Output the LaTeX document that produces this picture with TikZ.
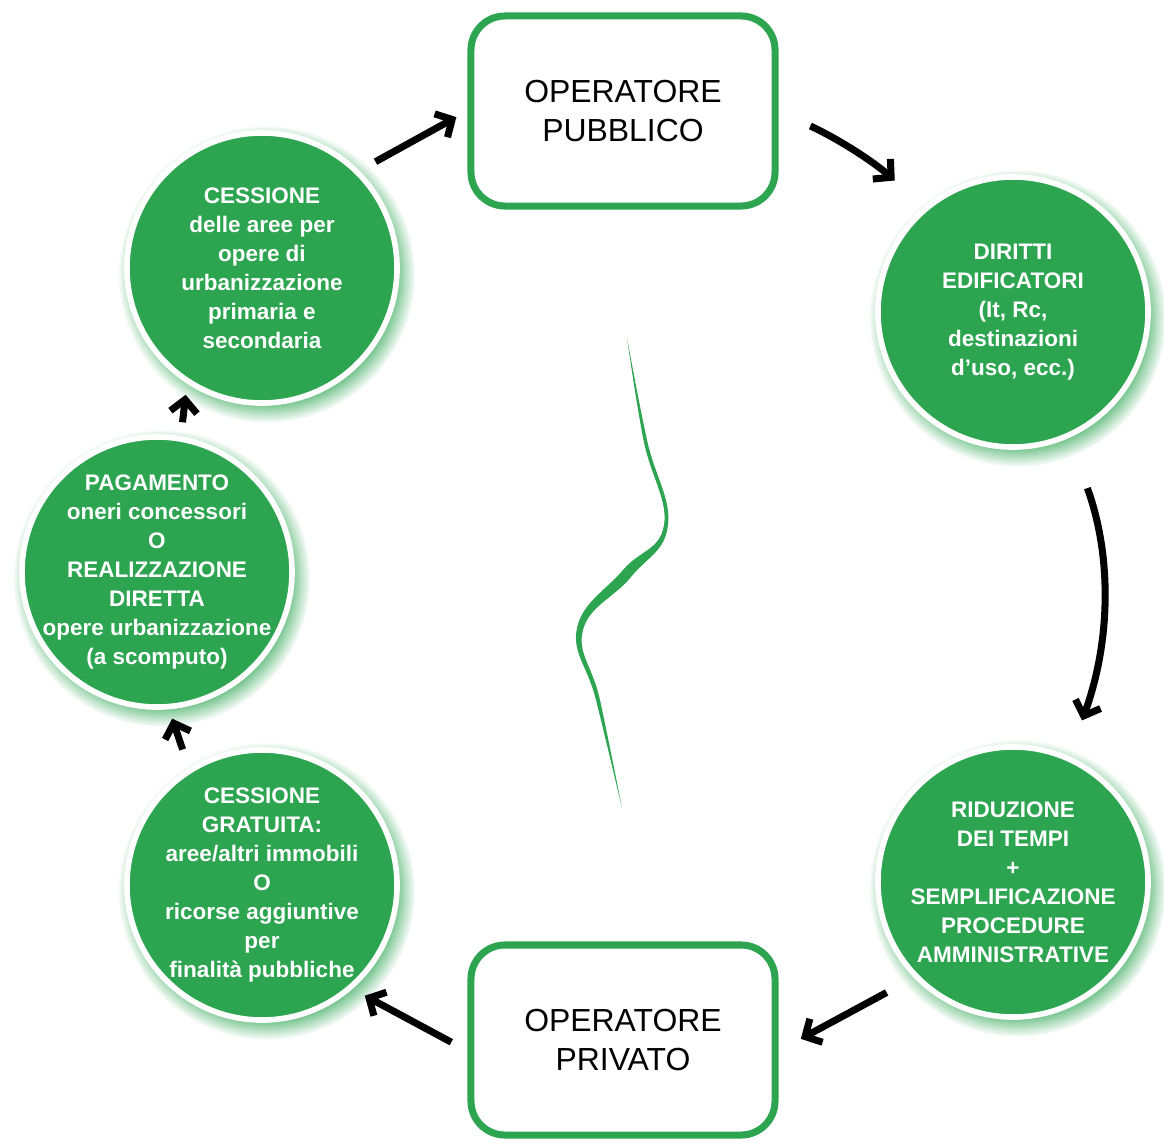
\documentclass[tikz,border=0pt]{standalone}
\usepackage{fontspec}
\setmainfont{Liberation Sans}
\usetikzlibrary{arrows.meta,shadows}
\definecolor{ringgreen}{RGB}{44,164,80}

\begin{document}
\begin{tikzpicture}[x=0.025cm,y=0.025cm,
  ->,>={Straight Barb[length=9pt,width=19pt]},
  flow/.style={line width=5pt},
  bubble/.style={circle,fill=ringgreen,draw=white,line width=4pt,
    minimum size=6.75cm,inner sep=0pt,
    circular drop shadow={fill=ringgreen,opacity=.75,shadow xshift=3pt,
      shadow yshift=-4pt,shadow scale=1.1}},
  bubbletext/.style={text=white,align=center,
    font=\bfseries\fontsize{16}{20.6}\selectfont},
  opbox/.style={rectangle,draw=ringgreen,line width=5pt,
    rounded corners=0.85cm,minimum width=7.6cm,minimum height=4.75cm,
    align=center,font=\fontsize{22.7}{28.4}\selectfont}]

\useasboundingbox (0,0) rectangle (1164,-1139);

\node[opbox] (op_pub) at (623,-111) {OPERATORE\\PUBBLICO};
\node[opbox] (op_priv) at (623,-1040) {OPERATORE\\PRIVATO};

\node[bubble,label={[bubbletext]center:{CESSIONE\\delle aree per\\opere di\\urbanizzazione\\primaria e\\secondaria}}]
  (c_cess) at (262,-268) {};
\node[bubble,label={[bubbletext]center:{DIRITTI\\EDIFICATORI\\(It, Rc,\\destinazioni\\d’uso, ecc.)}}]
  (c_dir) at (1013,-312) {};
\node[bubble,label={[bubbletext]center:{RIDUZIONE\\DEI TEMPI\\+\\SEMPLIFICAZIONE\\PROCEDURE\\AMMINISTRATIVE}}]
  (c_rid) at (1013,-882) {};
\node[bubble,label={[bubbletext]center:{CESSIONE\\GRATUITA:\\aree/altri immobili\\O\\ricorse aggiuntive\\per\\finalità pubbliche}}]
  (c_grat) at (262,-885) {};
\node[bubble,label={[bubbletext]center:{PAGAMENTO\\oneri concessori\\O\\REALIZZAZIONE\\DIRETTA\\opere urbanizzazione\\(a scomputo)}}]
  (c_pag) at (157,-572) {};

\path[flow] (c_cess.45) edge[shorten <=13pt,shorten >=9pt] (op_pub.west)
  (op_pub.east) edge[shorten <=25pt,shorten >=28pt,bend left=8] (c_dir.130)
  (c_dir.-66) edge[shorten <=38pt,shorten >=27pt,out=-70,in=70] (c_rid.66)
  (c_rid.-136) edge[shorten <=22pt,shorten >=18pt] (op_priv.-4)
  (op_priv.184) edge[shorten <=13pt,shorten >=10pt] (c_grat.-49)
  (c_grat.122) edge[shorten <=14pt,shorten >=7pt] (c_pag.-85)
  (c_pag.80) edge[shorten <=10pt,shorten >=8pt] (c_cess.-123);

% the wavy line in the middle
\fill[ringgreen,-] plot[smooth,tension=.7] coordinates {(627,-338) (647,-440) (668,-525) (631,-577) (583,-630) (600,-700) (622,-808)}
  -- plot[smooth,tension=.7] coordinates {(622,-808) (596,-700) (577,-628) (623,-570) (664,-525) (643.5,-440) (627,-338)} -- cycle;

\end{tikzpicture}
\end{document}
